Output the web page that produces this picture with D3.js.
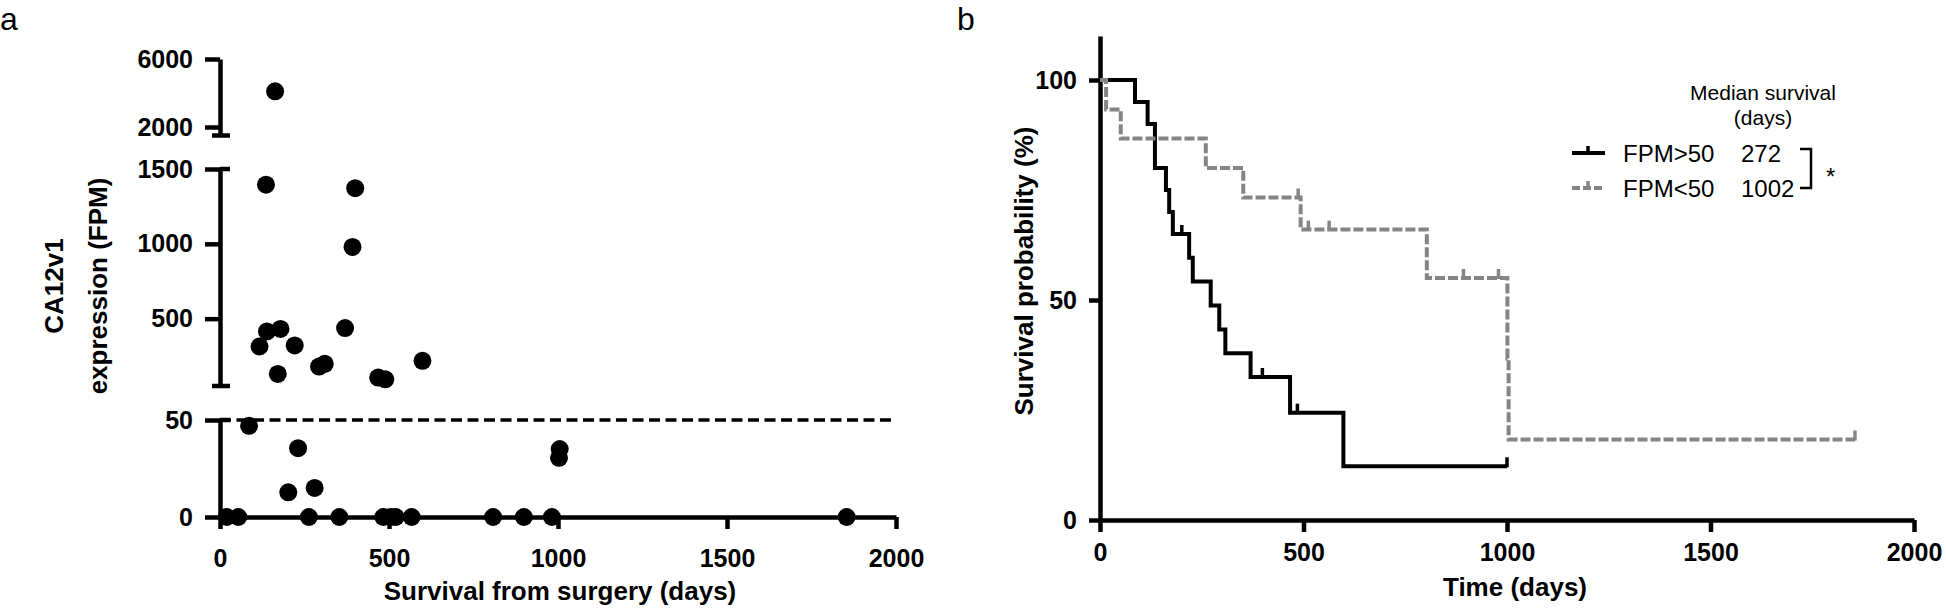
<!DOCTYPE html>
<html><head><meta charset="utf-8">
<script src="https://cdn.jsdelivr.net/npm/d3@7"></script>
<style>
body{margin:0;background:#fff;}
svg{display:block;font-family:"Liberation Sans",Arial,Helvetica,sans-serif;}
.tick text{font-weight:bold;font-size:25px;font-family:"Liberation Sans",Arial,sans-serif;fill:#000;}
.title{font-weight:bold;font-size:26px;fill:#000;}
.leg{font-size:24px;fill:#000;}
.legh{font-size:21px;fill:#000;}
.panel{font-size:32px;fill:#000;}
</style></head><body><svg id="c" width="1946" height="608"></svg>
<script>
// ---------- Panel a data ----------
const scatterDays = [163,136,400,392,139,179,117,221,370,171,293,310,468,489,599,
                     86,231,202,280,1005,1003,
                     20,54,263,353,483,505,520,567,808,899,982,1854];
const scatterFPM  = [4100,1395,1372,979,415,431,314,321,437,131,180,198,106,95,218,
                     47,35.5,12.7,15,35,30.5,
                     0,0,0,0,0,0,0,0,0,0,0,0];
const xTicksA   = [0,500,1000,1500,2000];
const yTicksLow = [0,50];
const yTicksMid = [500,1000,1500];
const yTicksTop = [2000,6000];
const cutoffFPM = 50;

// ---------- Panel b data ----------
const highTimes  = [0,86,117,135,162,170,179,219,228,272,293,308,370,467,598,1000];
const highSurv   = [100,95,90,80,75,70,65,59.6,54.2,48.75,43.3,37.9,32.5,24.4,12.2,12.2];
const highCensor = [201,399,485,1000];
const lowTimes   = [0,15,51,260,352,493,803,1001,1004,1855];
const lowSurv    = [100,93.3,86.7,80,73.3,66,55,36.7,18.3,18.3];
const lowCensor  = [487,512,563,893,979,1855];
const xTicksB = [0,500,1000,1500,2000];
const yTicksB = [0,50,100];
const groupNames = ["FPM>50","FPM<50"];
const medianSurvival = ["272","1002"];

const svg = d3.select("#c");
const AX_W = 4.5;
const fmt = d3.format("d");
function styleAxis(g){
  g.attr("font-size",null).attr("font-family",null);
  g.selectAll("path.domain").attr("stroke","#000").attr("stroke-width",AX_W);
  g.selectAll(".tick line").attr("stroke","#000").attr("stroke-width",AX_W);
}

// ================= Panel a =================
const xA   = d3.scaleLinear([0,2000],[220,896]);
const yLow = d3.scaleLinear([0,50],[517,420]);
const yMid = d3.scaleLinear([50,1500],[386,169]);
const yTop = d3.scaleLinear([1500,6000],[135.5,59]);
const yA = v => v <= 50 ? yLow(v) : (v <= 1500 ? yMid(v) : yTop(v));

svg.append("text").attr("class","panel").attr("x",0).attr("y",30).text("a");

[[yLow,yTicksLow],[yMid,yTicksMid],[yTop,yTicksTop]].forEach(([s,t])=>{
  svg.append("g").attr("transform","translate(220,0)")
    .call(d3.axisLeft(s).tickValues(t).tickFormat(fmt).tickSizeInner(15).tickSizeOuter(0).tickPadding(12))
    .call(styleAxis);
});
// break caps
const caps = [[yLow(50),220,230],[yMid(50),212,230],[yMid(1500),220,230],[yTop(1500),212,230]];
svg.append("g").selectAll("line").data(caps).join("line")
  .attr("x1",d=>d[1]).attr("x2",d=>d[2]).attr("y1",d=>d[0]).attr("y2",d=>d[0])
  .attr("stroke","#000").attr("stroke-width",AX_W);

svg.append("g").attr("transform",`translate(0,${yLow(0)})`)
  .call(d3.axisBottom(xA).tickValues(xTicksA).tickFormat(fmt).tickSizeInner(12).tickSizeOuter(0).tickPadding(20))
  .call(styleAxis);

svg.append("line").attr("x1",xA(0)).attr("x2",xA(2000))
  .attr("y1",yLow(cutoffFPM)).attr("y2",yLow(cutoffFPM))
  .attr("stroke","#000").attr("stroke-width",3.5).attr("stroke-dasharray","11,5.5");

svg.append("g").selectAll("circle").data(scatterDays).join("circle")
  .attr("cx",d=>xA(d)).attr("cy",(d,i)=>yA(scatterFPM[i])).attr("r",9).attr("fill","#000");

svg.append("text").attr("class","title").attr("text-anchor","middle")
  .attr("transform","translate(63,286) rotate(-90)").text("CA12v1");
svg.append("text").attr("class","title").attr("text-anchor","middle")
  .attr("transform","translate(107,286) rotate(-90)").text("expression (FPM)");
svg.append("text").attr("class","title").attr("text-anchor","middle")
  .attr("x",560).attr("y",600).text("Survival from surgery (days)");

// ================= Panel b =================
const xB = d3.scaleLinear([0,2000],[1100,1914]);
const yB = d3.scaleLinear([0,110],[520,36]);

svg.append("text").attr("class","panel").attr("x",957).attr("y",30).text("b");

svg.append("g").attr("transform","translate(1100,0)")
  .call(d3.axisLeft(yB).tickValues(yTicksB).tickFormat(fmt).tickSizeInner(11).tickSizeOuter(0).tickPadding(12))
  .call(styleAxis);
svg.append("g").attr("transform",`translate(0,${yB(0)})`)
  .call(d3.axisBottom(xB).tickValues(xTicksB).tickFormat(fmt).tickSizeInner(12).tickSizeOuter(0).tickPadding(11))
  .call(styleAxis);

const stepLine = d3.line().x(d=>xB(d[0])).y(d=>yB(d[1])).curve(d3.curveStepAfter);
function survAt(times,surv,t){ let s=surv[0]; for(let i=0;i<times.length;i++){ if(times[i]<=t) s=surv[i]; } return s; }

const groups = [
  {times:highTimes, surv:highSurv, cens:highCensor, color:"#000", dash:null},
  {times:lowTimes,  surv:lowSurv,  cens:lowCensor,  color:"#858585", dash:"10,3"}
];
groups.forEach(g=>{
  const pts = g.times.map((t,i)=>[t,g.surv[i]]);
  svg.append("path").attr("d",stepLine(pts)).attr("fill","none")
    .attr("stroke",g.color).attr("stroke-width",4).attr("stroke-dasharray",g.dash);
  svg.append("g").selectAll("line").data(g.cens).join("line")
    .attr("x1",d=>xB(d)).attr("x2",d=>xB(d))
    .attr("y1",d=>yB(survAt(g.times,g.surv,d))+1).attr("y2",d=>yB(survAt(g.times,g.surv,d))-9)
    .attr("stroke",g.color).attr("stroke-width",3.5);
});

svg.append("text").attr("class","title").attr("text-anchor","middle")
  .attr("transform","translate(1033,271) rotate(-90)").text("Survival probability (%)");
svg.append("text").attr("class","title").attr("text-anchor","middle")
  .attr("x",1515).attr("y",596).text("Time (days)");

// legend
svg.append("text").attr("class","legh").attr("text-anchor","middle").attr("x",1763).attr("y",100).text("Median survival");
svg.append("text").attr("class","legh").attr("text-anchor","middle").attr("x",1763).attr("y",125).text("(days)");
const legY = [153,188];
groups.forEach((g,i)=>{
  const y = legY[i];
  svg.append("line").attr("x1",1572).attr("x2",1605).attr("y1",y).attr("y2",y)
    .attr("stroke",g.color).attr("stroke-width",4).attr("stroke-dasharray",g.dash ? "8,3" : null);
  svg.append("line").attr("x1",1588).attr("x2",1588).attr("y1",y).attr("y2",y-7)
    .attr("stroke",g.color).attr("stroke-width",3.5);
  svg.append("text").attr("class","leg").attr("x",1623).attr("y",y+9).text(groupNames[i]);
  svg.append("text").attr("class","leg").attr("x",1741).attr("y",y+9).text(medianSurvival[i]);
});
svg.append("path").attr("d","M1800,149H1811V188H1800").attr("fill","none").attr("stroke","#000").attr("stroke-width",2.5);
svg.append("text").attr("class","leg").attr("x",1826).attr("y",185).text("*");
</script></body></html>
